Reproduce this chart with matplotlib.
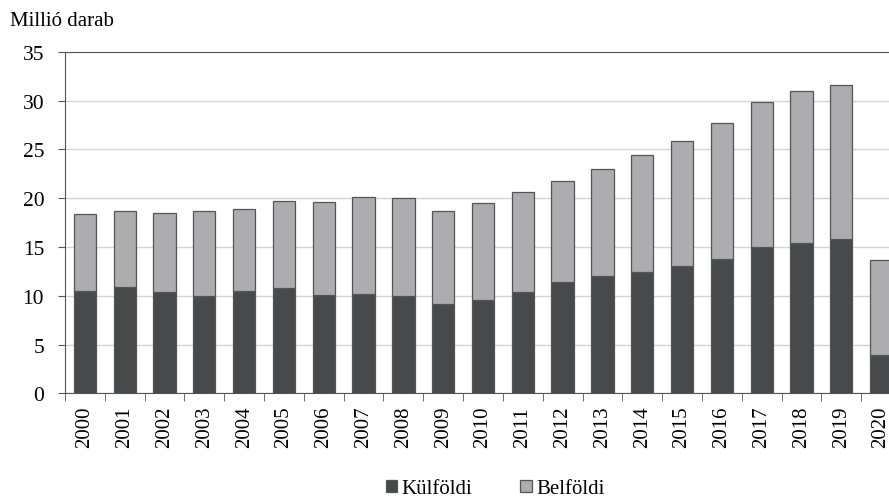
import matplotlib
matplotlib.use('Agg')
import matplotlib.pyplot as plt
import numpy as np

plt.rcParams['font.family'] = ['Liberation Serif', 'DejaVu Serif']

years = ['2000', '2001', '2002', '2003', '2004', '2005', '2006', '2007', '2008', '2009', '2010',
         '2011', '2012', '2013', '2014', '2015', '2016', '2017', '2018', '2019', '2020']
# kulfoldi (foreign) and total
kulfoldi = [10.5, 10.9, 10.4, 10.0, 10.5, 10.8, 10.1, 10.2, 10.0, 9.2, 9.6,
            10.4, 11.4, 12.0, 12.4, 13.0, 13.8, 15.0, 15.4, 15.8, 3.9]
osszes = [18.4, 18.65, 18.45, 18.65, 18.9, 19.7, 19.65, 20.1, 20.0, 18.7, 19.55,
          20.6, 21.8, 23.0, 24.4, 25.9, 27.65, 29.8, 31.0, 31.6, 13.7]
belfoldi = [t - k for t, k in zip(osszes, kulfoldi)]

dark = '#48494b'
light = '#adacae'

fig = plt.figure(figsize=(8.89, 5.02), dpi=100)
ax = fig.add_axes([0.0731, 0.2145, 0.9404, 0.6805])

x = np.arange(len(years))
ax.bar(x, kulfoldi, width=0.56, color=dark, edgecolor='#1a1a1a', linewidth=0.9, label='Külföldi', zorder=3)
ax.bar(x, belfoldi, bottom=kulfoldi, width=0.56, color=light, edgecolor='#1a1a1a', linewidth=0.9,
       label='Belföldi', zorder=3)

ax.set_xlim(-0.5, len(years) - 0.5)
ax.set_ylim(0, 35)
ax.set_yticks(range(0, 36, 5))
ax.yaxis.grid(True, color='#d4d4d4', linewidth=1, zorder=0)
ax.set_axisbelow(True)

ax.set_xticks(x)
ax.set_xticklabels(years, rotation=90, fontsize=15)
ax.set_xticks(np.arange(-0.5, len(years), 1), minor=True)
ax.tick_params(axis='x', which='major', length=0, pad=9)
ax.tick_params(axis='x', which='minor', length=6, color='#555555')
ax.tick_params(axis='y', labelsize=15.5, length=5, color='#555555', pad=10)

for s in ['left', 'bottom', 'top']:
    ax.spines[s].set_color('#555555')
ax.spines['right'].set_visible(False)

fig.text(0.011, 0.957, 'Millió darab', fontsize=15, ha='left', va='center')

handles, labels = ax.get_legend_handles_labels()
for h in handles:
    for p in h.patches:
        p.set_edgecolor('#555555')
leg = fig.legend(loc='center', bbox_to_anchor=(0.557, 0.024), ncol=2, frameon=False, fontsize=15,
                 handlelength=0.55, handleheight=0.55, handletextpad=0.2, columnspacing=2.3)

fig.savefig('out.png', dpi=100)
